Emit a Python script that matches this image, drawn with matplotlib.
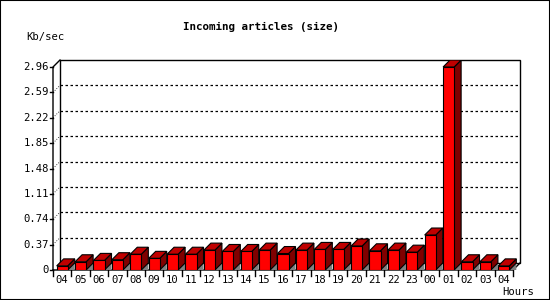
import matplotlib
matplotlib.use("Agg")
import matplotlib.pyplot as plt
from matplotlib.patches import Polygon, Rectangle

hours = ["04", "05", "06", "07", "08", "09", "10", "11", "12", "13", "14", "15", "16",
         "17", "18", "19", "20", "21", "22", "23", "00", "01", "02", "03", "04"]
kb_sec = [0.06, 0.12, 0.14, 0.15, 0.23, 0.17, 0.23, 0.23, 0.29, 0.27, 0.27, 0.29, 0.24,
          0.29, 0.30, 0.30, 0.35, 0.28, 0.29, 0.26, 0.51, 2.96, 0.12, 0.12, 0.06]
y_ticks = [0, 0.37, 0.74, 1.11, 1.48, 1.85, 2.22, 2.59, 2.96]

W, H = 550, 300
FRONT_W, FRONT_H, DEPTH = 460, 203, 7   # pixel sizes of the front plane and 3d depth
LEFT, BOTTOM = 53, 30

n = len(hours)
ymax = y_ticks[-1]
ddx = DEPTH * n / FRONT_W
ddy = DEPTH * ymax / FRONT_H

RED, TOP, SIDE, SHADOW = "#ff0000", "#c00000", "#800000", "#808080"
font = dict(family="DejaVu Sans Mono", fontsize=7.6)

fig = plt.figure(figsize=(W / 100, H / 100), dpi=100)
fig.patches.append(Rectangle((0, 0), 1, 1, transform=fig.transFigure, fill=False,
                             edgecolor="black", linewidth=1.5))
ax = fig.add_axes([LEFT / W, BOTTOM / H, (FRONT_W + DEPTH) / W, (FRONT_H + DEPTH) / H])
ax.set_xlim(0, n + ddx)
ax.set_ylim(0, ymax + ddy)
ax.axis("off")

# back wall and floor
ax.add_patch(Rectangle((ddx, ddy), n, ymax, facecolor="white", edgecolor="black",
                       linewidth=1, clip_on=False))
ax.plot([0, n, n + ddx], [0, 0, ddy], color="black", linewidth=1, clip_on=False)
ax.plot([0, 0, ddx], [0, ymax, ymax + ddy], color="black", linewidth=1, clip_on=False)

# grid lines on the back wall
for v in y_ticks[1:-1]:
    ax.plot([ddx, n + ddx], [v + ddy, v + ddy], color="black", linewidth=0.9,
            linestyle=(0, (2, 2)), clip_on=False)
    ax.plot([0, ddx], [v, v + ddy], color="black", linewidth=0.6,
            linestyle=(0, (1, 2)), clip_on=False)

# y ticks and labels
for v in y_ticks:
    ax.plot([-0.17, 0], [v, v], color="black", linewidth=1, clip_on=False)
    ax.text(-0.22, v, f"{v:g}" if v else "0", ha="right", va="center", **font)

# x ticks and labels
for i in range(n + 1):
    ax.plot([i, i], [0, -0.09], color="black", linewidth=1, clip_on=False)
for i, h in enumerate(hours):
    ax.text(i + 0.5, -0.15, h, ha="center", va="center", **font)

# 3d bars
off, bw = 0.2, 0.6
for i, v in enumerate(kb_sec):
    x0, x1 = i + off, i + off + bw
    ax.add_patch(Polygon([(x1, 0), (x1 + ddx, ddy), (x1 + ddx, 0)], closed=True,
                         facecolor=SHADOW, edgecolor="none", zorder=3))
    ax.add_patch(Polygon([(x1, 0), (x1 + ddx, ddy), (x1 + ddx, v + ddy), (x1, v)],
                         closed=True, facecolor=SIDE, edgecolor="black", linewidth=0.8,
                         zorder=4))
    ax.add_patch(Polygon([(x0, v), (x0 + ddx, v + ddy), (x1 + ddx, v + ddy), (x1, v)],
                         closed=True, facecolor=TOP, edgecolor="black", linewidth=0.8,
                         zorder=4))
    ax.add_patch(Rectangle((x0, 0), bw, v, facecolor=RED, edgecolor="black",
                           linewidth=0.8, zorder=5))

fig.text(261 / W, 1 - 27 / H, "Incoming articles (size)", ha="center", va="center",
         family="DejaVu Sans Mono", fontsize=7.8, fontweight="bold")
fig.text(45 / W, 1 - 37 / H, "Kb/sec", ha="center", va="center", **font)
fig.text(518 / W, 1 - 292 / H, "Hours", ha="center", va="center", **font)

fig.savefig("out.png", dpi=100)
